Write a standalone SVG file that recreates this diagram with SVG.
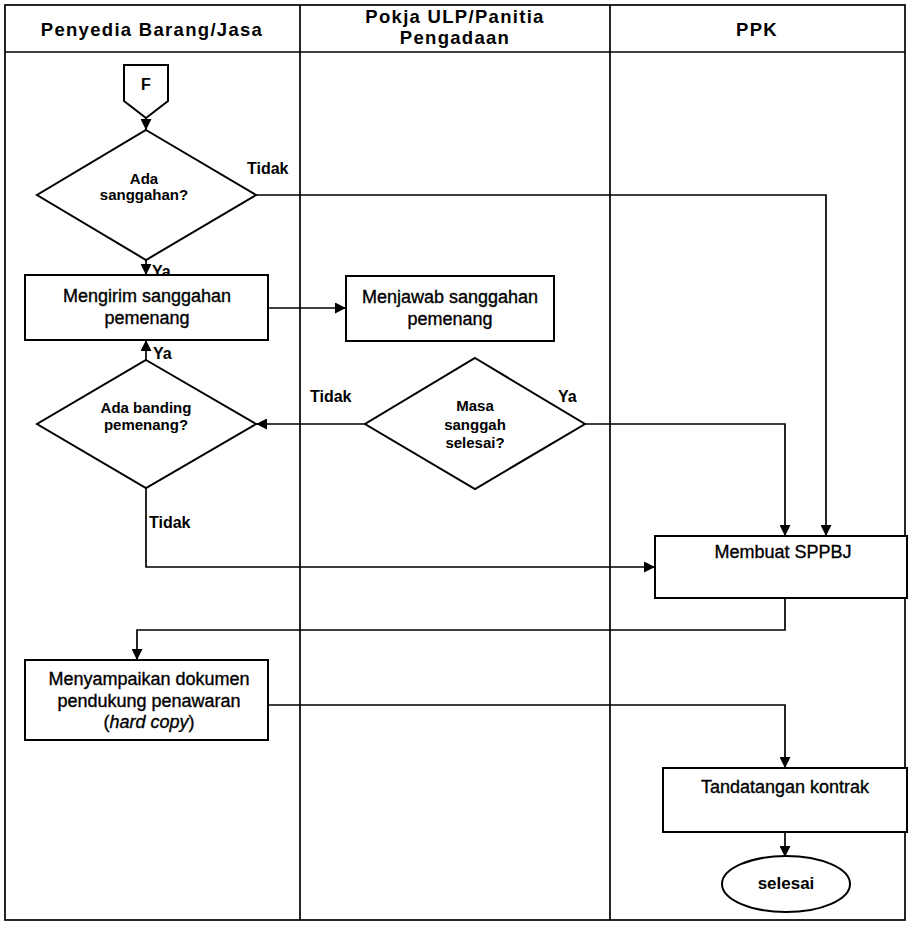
<svg xmlns="http://www.w3.org/2000/svg" width="910" height="925" viewBox="0 0 910 925">
<style>
.ln{fill:none;stroke:#000;stroke-width:1.7}
.sh{fill:#fff;stroke:#000;stroke-width:2}
.t{font-family:"Liberation Sans",Arial,sans-serif;font-size:18px;fill:#000;stroke:#000;stroke-width:0.35;text-anchor:middle}
.h{font-family:"Liberation Sans",Arial,sans-serif;font-size:18.5px;font-weight:bold;letter-spacing:1.3px;fill:#000;text-anchor:middle}
.d{font-family:"Liberation Sans",Arial,sans-serif;font-size:15px;font-weight:bold;fill:#000;text-anchor:middle}
.l{font-family:"Liberation Sans",Arial,sans-serif;font-size:16px;font-weight:bold;fill:#000}
</style>
<defs>
<marker id="ah" viewBox="0 0 10 10" refX="10" refY="5" markerWidth="11" markerHeight="11" markerUnits="userSpaceOnUse" orient="auto">
<path d="M0,0 L10,5 L0,10 z" fill="#000"/>
</marker>
</defs>
<rect width="910" height="925" fill="#fff"/>
<g id="lanes">
<rect x="5" y="5" width="900" height="915" class="ln"/>
<line x1="5" y1="52" x2="905" y2="52" class="ln"/>
<line x1="300" y1="5" x2="300" y2="920" class="ln"/>
<line x1="610" y1="5" x2="610" y2="920" class="ln"/>
<text x="152" y="36" class="h">Penyedia Barang/Jasa</text>
<text x="455" y="23" class="h">Pokja ULP/Panitia</text>
<text x="455" y="44" class="h">Pengadaan</text>
<text x="757" y="36" class="h">PPK</text>
</g>
<g id="connectors">
<line x1="146" y1="118" x2="146" y2="130" class="ln" marker-end="url(#ah)"/>
<polyline points="256,195 826,195 826,536" class="ln" marker-end="url(#ah)"/>
<line x1="146" y1="260" x2="146" y2="275" class="ln" marker-end="url(#ah)"/>
<line x1="268" y1="308" x2="346" y2="308" class="ln" marker-end="url(#ah)"/>
<line x1="146" y1="360" x2="146" y2="340" class="ln" marker-end="url(#ah)"/>
<line x1="365" y1="424" x2="256" y2="424" class="ln" marker-end="url(#ah)"/>
<polyline points="585,424 785,424 785,536" class="ln" marker-end="url(#ah)"/>
<polyline points="146,488 146,567 655,567" class="ln" marker-end="url(#ah)"/>
<polyline points="785,598 785,630 137,630 137,660" class="ln" marker-end="url(#ah)"/>
<polyline points="268,705 785,705 785,768" class="ln" marker-end="url(#ah)"/>
<line x1="785" y1="832" x2="785" y2="857" class="ln" marker-end="url(#ah)"/>
<text x="247" y="174" class="l">Tidak</text>
<text x="152" y="277" class="l">Ya</text>
<text x="153" y="359" class="l">Ya</text>
<text x="310" y="402" class="l">Tidak</text>
<text x="558" y="402" class="l">Ya</text>
<text x="149" y="528" class="l">Tidak</text>
</g>
<g id="start">
<path d="M124,65 L168,65 L168,101 L146,118 L124,101 Z" class="sh"/>
<text x="146" y="90" class="d" style="font-size:16px">F</text>
</g>
<g id="q1">
<polygon points="146,130 256,195 146,260 37,195" class="sh"/>
<text x="144" y="184" class="d">Ada</text>
<text x="144" y="200" class="d">sanggahan?</text>
</g>
<g id="kirim">
<rect x="25" y="275" width="243" height="65" class="sh"/>
<text x="147" y="302" class="t">Mengirim sanggahan</text>
<text x="147" y="324" class="t">pemenang</text>
</g>
<g id="jawab">
<rect x="346" y="276" width="208" height="65" class="sh"/>
<text x="450" y="303" class="t">Menjawab sanggahan</text>
<text x="450" y="325" class="t">pemenang</text>
</g>
<g id="q2">
<polygon points="146,360 256,424 146,488 37,424" class="sh"/>
<text x="146" y="413" class="d">Ada banding</text>
<text x="146" y="430" class="d">pemenang?</text>
</g>
<g id="q3">
<polygon points="475,358 585,424 475,489 365,424" class="sh"/>
<text x="475" y="411" class="d">Masa</text>
<text x="475" y="430" class="d">sanggah</text>
<text x="475" y="448" class="d">selesai?</text>
</g>
<g id="sppbj">
<rect x="655" y="536" width="252" height="62" class="sh"/>
<text x="783" y="558" class="t">Membuat SPPBJ</text>
</g>
<g id="dokumen">
<rect x="25" y="660" width="243" height="80" class="sh"/>
<text x="149" y="685" class="t">Menyampaikan dokumen</text>
<text x="149" y="707" class="t">pendukung penawaran</text>
<text x="149" y="728" class="t">(<tspan font-style="italic">hard copy</tspan>)</text>
</g>
<g id="kontrak">
<rect x="663" y="768" width="244" height="64" class="sh"/>
<text x="785" y="793" class="t">Tandatangan kontrak</text>
</g>
<g id="selesai">
<ellipse cx="786" cy="884" rx="64" ry="28" class="sh"/>
<text x="786" y="889" class="d" style="font-size:17px">selesai</text>
</g>
</svg>
